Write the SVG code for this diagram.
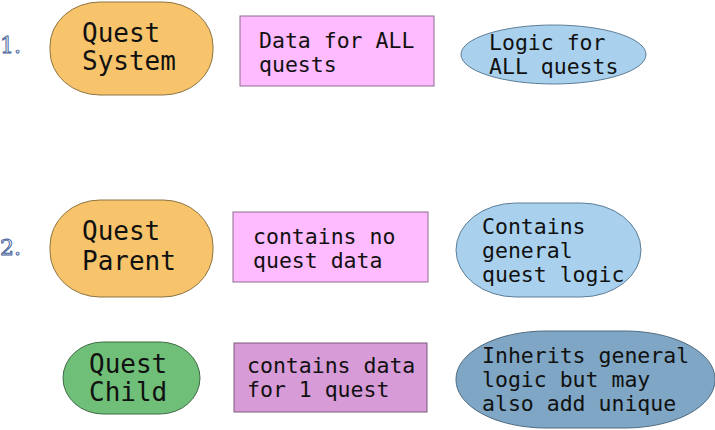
<svg xmlns="http://www.w3.org/2000/svg" width="715" height="430" viewBox="0 0 715 430">
<style>
.t{font-family:"DejaVu Sans Mono","Liberation Mono",monospace;fill:#111;}
.big{font-size:26px;}
.sm{font-size:21.5px;}
.num{font-family:"DejaVu Serif","Liberation Serif",serif;font-size:22px;fill:#f4f6fb;stroke:#3d5a96;stroke-width:0.9px;}
.orange{fill:#F7C46B;stroke:#8c7443;stroke-width:1;}
.green{fill:#6FBF78;stroke:#3e6b45;stroke-width:1;}
.pink{fill:#FFBBFF;stroke:#8d6d8d;stroke-width:1;}
.purple{fill:#D79BD7;stroke:#7d5a7d;stroke-width:1;}
.lblue{fill:#A9D1EE;stroke:#5d7d97;stroke-width:1;}
.sblue{fill:#7FA6C4;stroke:#4e6a80;stroke-width:1;}
</style>
<rect width="715" height="430" fill="#ffffff"/>
<text class="num" x="0" y="53">1.</text>
<text class="num" x="0" y="255">2.</text>
<g id="quest-system">
<rect class="orange" x="50" y="2" width="163" height="93" rx="50" ry="44"/>
<text class="t big" x="82" y="42">Quest</text>
<text class="t big" x="82" y="70">System</text>
</g>
<g id="data-all">
<rect class="pink" x="240" y="16" width="194" height="70"/>
<text class="t sm" x="259" y="48">Data for ALL</text>
<text class="t sm" x="259" y="72">quests</text>
</g>
<g id="logic-all">
<ellipse class="lblue" cx="553.5" cy="54.5" rx="92.5" ry="29.5"/>
<text class="t sm" x="489" y="50">Logic for</text>
<text class="t sm" x="489" y="74">ALL quests</text>
</g>
<g id="quest-parent">
<rect class="orange" x="50" y="200" width="163" height="97" rx="50" ry="46"/>
<text class="t big" x="82" y="240">Quest</text>
<text class="t big" x="82" y="270">Parent</text>
</g>
<g id="no-data">
<rect class="pink" x="233" y="212" width="195" height="70"/>
<text class="t sm" x="253" y="244">contains no</text>
<text class="t sm" x="253" y="268">quest data</text>
</g>
<g id="general-logic">
<rect class="lblue" x="456" y="203" width="185" height="94" rx="60" ry="47"/>
<text class="t sm" x="482" y="234">Contains</text>
<text class="t sm" x="482" y="258">general</text>
<text class="t sm" x="482" y="282">quest logic</text>
</g>
<g id="quest-child">
<rect class="green" x="63" y="342" width="137" height="72" rx="40" ry="36"/>
<text class="t big" x="89" y="373">Quest</text>
<text class="t big" x="89" y="401">Child</text>
</g>
<g id="data-one">
<rect class="purple" x="234" y="343" width="193" height="69"/>
<text class="t sm" x="247" y="373">contains data</text>
<text class="t sm" x="247" y="397">for 1 quest</text>
</g>
<g id="inherits">
<rect class="sblue" x="456" y="331" width="259" height="97" rx="90" ry="48"/>
<text class="t sm" x="482" y="363">Inherits general</text>
<text class="t sm" x="482" y="387">logic but may</text>
<text class="t sm" x="482" y="411">also add unique</text>
</g>
<g id="connectors"></g>
</svg>
